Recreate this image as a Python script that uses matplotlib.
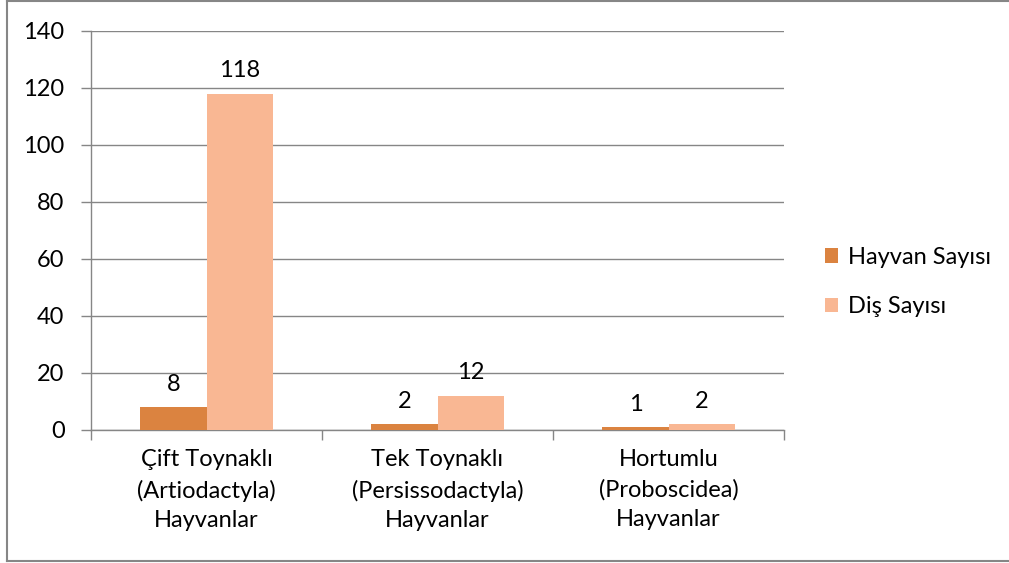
import matplotlib.pyplot as plt
import numpy as np
from matplotlib.patches import Patch
from matplotlib.lines import Line2D

categories = ['Çift Toynaklı\n(Artiodactyla)\nHayvanlar',
              'Tek Toynaklı\n(Persissodactyla)\nHayvanlar',
              'Hortumlu\n(Proboscidea)\nHayvanlar']
hayvan_sayisi = [8, 2, 1]
dis_sayisi = [118, 12, 2]
series_names = ['Hayvan Sayısı', 'Diş Sayısı']
colors = ['#DB8340', '#F9B793']
yticks = [0, 20, 40, 60, 80, 100, 120, 140]

plt.rcParams['font.family'] = ['Lato', 'DejaVu Sans']
grey = '#868686'
fs = 17

W, H = 1009, 563
fig = plt.figure(figsize=(W / 100, H / 100), dpi=100)
ax = fig.add_axes([91 / W, 1 - 430 / H, (784 - 91) / W, (430 - 31) / H])

x = np.arange(len(categories))
w = 0.286
b1 = ax.bar(x - w / 2, hayvan_sayisi, w, color=colors[0], label=series_names[0], zorder=3)
b2 = ax.bar(x + w / 2, dis_sayisi, w, color=colors[1], label=series_names[1], zorder=3)

for bars, vals in ((b1, hayvan_sayisi), (b2, dis_sayisi)):
    for rect, v in zip(bars, vals):
        ax.annotate(str(v), (rect.get_x() + rect.get_width() / 2, v),
                    xytext=(0, 9), textcoords='offset points',
                    ha='center', va='bottom', fontsize=fs, color='black', zorder=4)

ax.set_xlim(-0.5, len(categories) - 0.5)
ax.set_ylim(0, 140)
ax.set_yticks(yticks)
ax.tick_params(axis='y', labelsize=fs, length=7, color=grey, width=1, pad=12)
ax.yaxis.grid(True, color=grey, linewidth=1, zorder=0)

# category labels centred, tick marks on boundaries
ax.set_xticks(x)
ax.set_xticklabels(categories, fontsize=fs, linespacing=1.5)
ax.tick_params(axis='x', length=0, pad=14)
ax.set_xticks(np.arange(-0.5, len(categories)), minor=True)
ax.tick_params(axis='x', which='minor', length=7, color=grey, width=1)

for s in ('top', 'right'):
    ax.spines[s].set_visible(False)
for s in ('left', 'bottom'):
    ax.spines[s].set_color(grey)
    ax.spines[s].set_linewidth(1)

handles = [Patch(facecolor=c, edgecolor='none') for c in colors]
fig.legend(handles, series_names, loc='center left', bbox_to_anchor=(804 / W, 1 - 282 / H),
           frameon=False, fontsize=fs, handlelength=0.55, handleheight=0.55,
           handletextpad=0.4, labelspacing=1.2)

# outer chart border
fig.add_artist(Line2D([7 / W, 7 / W], [1 - 1 / H, 1 - 561 / H], color=grey, lw=1.5))
fig.add_artist(Line2D([7 / W, 1], [1 - 1 / H, 1 - 1 / H], color=grey, lw=1.5))
fig.add_artist(Line2D([7 / W, 1], [1 - 561 / H, 1 - 561 / H], color=grey, lw=1.5))

fig.savefig('out.png', dpi=100)
